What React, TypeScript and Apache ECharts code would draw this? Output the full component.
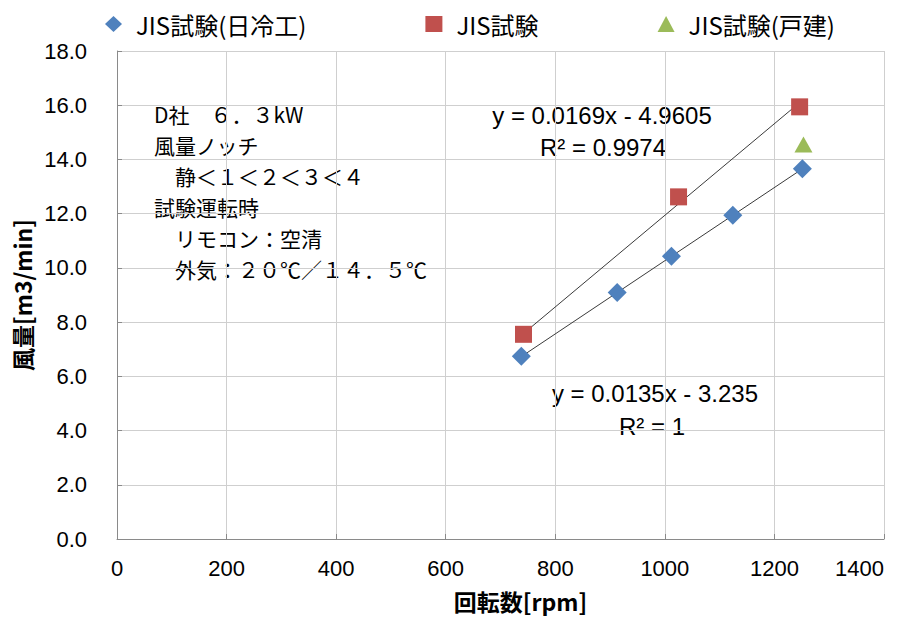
import React, { useEffect, useRef } from "react";
import * as echarts from "echarts";

const seriesNames = ["JIS試験(日冷工)", "JIS試験", "JIS試験(戸建)"];
const nichireiRpm = [738, 913, 1012, 1124, 1251];
const nichireiFlow = [6.74, 9.09, 10.43, 11.94, 13.66];
const jisRpm = [742, 1025, 1246];
const jisFlow = [7.55, 12.62, 15.94];
const kodateRpm = [1253];
const kodateFlow = [14.55];
const xTicks = [0, 200, 400, 600, 800, 1000, 1200, 1400];
const yTicks = [0, 2, 4, 6, 8, 10, 12, 14, 16, 18];
const trendBlue = { slope: 0.0135, intercept: -3.235, eq: "y = 0.0135x - 3.235", r2: "R² = 1" };
const trendRed = { slope: 0.0169, intercept: -4.9605, eq: "y = 0.0169x - 4.9605", r2: "R² = 0.9974" };
const noteLines = [
  "D社　６．３kW",
  "風量ノッチ",
  "　静＜１＜２＜３＜４",
  "試験運転時",
  "　リモコン：空清",
  "　外気：２０℃／１４．５℃",
];

const pairs = (xs: number[], ys: number[]) => xs.map((x, i) => [x, ys[i]]);
const trendData = (xs: number[], t: { slope: number; intercept: number }) => {
  const a = Math.min(...xs);
  const b = Math.max(...xs);
  return [
    [a, t.slope * a + t.intercept],
    [b, t.slope * b + t.intercept],
  ];
};

export default function App() {
  const ref = useRef<HTMLDivElement>(null);
  useEffect(() => {
    if (!ref.current) return;
    const chart = echarts.init(ref.current, undefined, { renderer: "svg" });
    const tickFont = { fontFamily: "Liberation Sans", fontSize: 22, color: "#000" };
    const eqFont = { fontFamily: "Liberation Sans", fontSize: 24, fill: "#000" };
    chart.setOption({
      animation: false,
      backgroundColor: "#fff",
      legend: {
        data: seriesNames,
        left: 100,
        top: 7,
        itemWidth: 17,
        itemHeight: 16,
        itemGap: 119,
        textStyle: {
          fontFamily: "Noto Sans CJK JP",
          fontSize: 24,
          color: "#000",
          padding: [0, 0, 0, 9],
        },
      },
      grid: { left: 117, right: 25, top: 51, bottom: 78, containLabel: false },
      xAxis: {
        type: "value",
        min: 0,
        max: 1400,
        interval: 200,
        name: "回転数[rpm]",
        nameLocation: "middle",
        nameGap: 50,
        nameTextStyle: {
          fontFamily: "Noto Sans CJK JP",
          fontSize: 23,
          fontWeight: "bold",
          color: "#000",
          padding: [0, 0, 0, 40],
        },
        axisLine: { show: true, lineStyle: { color: "#8a8a8a", width: 1 } },
        axisTick: { show: true, inside: true, length: 5, lineStyle: { color: "#8a8a8a" } },
        axisLabel: { ...tickFont, margin: 18, alignMaxLabel: "right", formatter: (v: number) => String(v) },
        splitLine: { show: true, lineStyle: { color: "#cfcfcf", width: 1 } },
      },
      yAxis: {
        type: "value",
        min: 0,
        max: 18,
        interval: 2,
        name: "風量[m3/min]",
        nameLocation: "middle",
        nameGap: 82,
        nameTextStyle: {
          fontFamily: "Noto Sans CJK JP",
          fontSize: 23,
          fontWeight: "bold",
          color: "#000",
        },
        axisLine: { show: true, lineStyle: { color: "#8a8a8a", width: 1 } },
        axisTick: { show: true, inside: true, length: 5, lineStyle: { color: "#8a8a8a" } },
        axisLabel: { ...tickFont, margin: 30, formatter: (v: number) => v.toFixed(1) },
        splitLine: { show: true, lineStyle: { color: "#cfcfcf", width: 1 } },
      },
      series: [
        {
          name: "trend-red",
          type: "line",
          data: trendData(jisRpm, trendRed),
          symbol: "none",
          lineStyle: { color: "#3a3a3a", width: 1 },
          z: 1,
          silent: true,
        },
        {
          name: "trend-blue",
          type: "line",
          data: trendData(nichireiRpm, trendBlue),
          symbol: "none",
          lineStyle: { color: "#3a3a3a", width: 1 },
          z: 1,
          silent: true,
        },
        {
          name: seriesNames[0],
          type: "scatter",
          data: pairs(nichireiRpm, nichireiFlow),
          symbol: "diamond",
          symbolSize: [19, 19],
          itemStyle: { color: "#4F81BD", opacity: 1 },
          z: 3,
        },
        {
          name: seriesNames[1],
          type: "scatter",
          data: pairs(jisRpm, jisFlow),
          symbol: "rect",
          symbolSize: 17,
          itemStyle: { color: "#C0504D", opacity: 1 },
          z: 2,
        },
        {
          name: seriesNames[2],
          type: "scatter",
          data: pairs(kodateRpm, kodateFlow),
          symbol: "triangle",
          symbolSize: [18, 16],
          itemStyle: { color: "#9BBB59", opacity: 1 },
          z: 2,
        },
      ],
      graphic: [
        {
          type: "text",
          left: 154,
          top: 98,
          style: {
            text: noteLines.join("\n"),
            fontFamily: "Noto Sans CJK JP",
            fontSize: 21,
            lineHeight: 31,
            fill: "#000",
          },
        },
        { type: "text", x: 602, y: 115, style: { text: trendRed.eq, ...eqFont, align: "center", verticalAlign: "middle" } },
        { type: "text", x: 603, y: 147, style: { text: trendRed.r2, ...eqFont, align: "center", verticalAlign: "middle" } },
        { type: "text", x: 655, y: 393, style: { text: trendBlue.eq, ...eqFont, align: "center", verticalAlign: "middle" } },
        { type: "text", x: 652, y: 426, style: { text: trendBlue.r2, ...eqFont, align: "center", verticalAlign: "middle" } },
      ],
    });
    return () => chart.dispose();
  }, []);
  return <div ref={ref} style={{ width: 909, height: 617, position: "absolute", left: 0, top: 0 }} />;
}
